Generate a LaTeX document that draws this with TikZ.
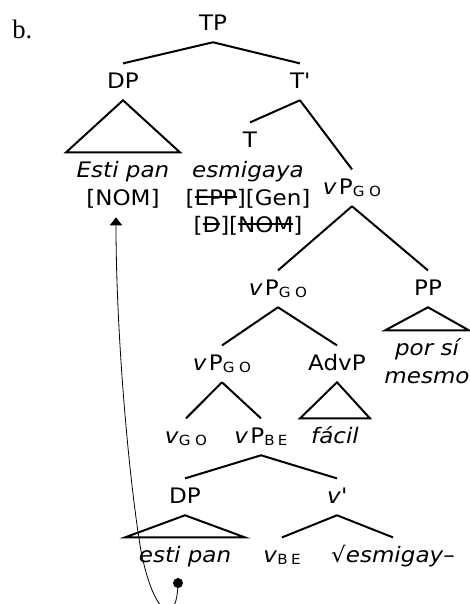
\documentclass[tikz,border=0pt]{standalone}
\usepackage{fontspec}
\setsansfont{DejaVu Sans}[FakeStretch=1.08]
\newfontfamily\itemfont{Liberation Serif}
\usetikzlibrary{arrows.meta,positioning}
\newsavebox\strkbox
\newcommand\strk[1]{\sbox\strkbox{#1}\rlap{\rule[0.34em]{\wd\strkbox}{0.07em}}\usebox\strkbox}
\newcommand\lowsc[1]{\raisebox{-1.5pt}{\fontsize{10.5}{11}\selectfont #1}}
\newcommand\sbGO{\lowsc{G\hspace{3.5pt}O}}
\newcommand\sbBE{\lowsc{B\hspace{2.5pt}E}}
\tikzset{
    lab/.style ={inner sep=0pt, anchor=base, text height=11.5pt, text depth=0pt,
                 font=\sffamily\fontsize{16}{18}\selectfont},
    wrd/.style ={lab, font=\sffamily\itshape\fontsize{16}{18}\selectfont},
    branch/.style={line width=1.5pt},
    roof/.style={line width=1.5pt, line join=miter},
    trace/.style={circle, fill, inner sep=0pt, minimum size=7.5pt}
}
\begin{document}
\begin{tikzpicture}[x=0.75pt,y=-0.75pt]
\useasboundingbox (0,0) rectangle (470,604);
 \node[inner sep=0pt, anchor=base west, font=\itemfont\fontsize{20}{22}\selectfont] (item) at (12,38) {b.};
 \node[lab] (tp) at (213,30) {TP};
    \node[lab] (dp) at (123,88) {DP};
    \node[lab] (tbar) at (300,88) {T\textquotesingle};
    \node[wrd] (dpw) at (123,177) {Esti pan};
    \node[lab] (nom) at (123,205) {[NOM]};
    \node[lab] (t) at (250,147) {T};
    \node[wrd] (tw) at (248,177) {esmigaya};
    \node[lab] (tf1) at (248,205) {[\strk{EPP}][Gen]};
    \node[lab] (tf2) at (248,232) {[\strk{D}][\strk{NOM}]};
    \node[lab] (vp1) at (352,194) {\textit{v}\hspace{1.5pt}P\sbGO};
    \node[lab] (vp2) at (278,295) {\textit{v}\hspace{1.5pt}P\sbGO};
    \node[lab] (pp) at (428,295) {PP};
    \node[wrd] (por) at (427,355) {por sí};
    \node[wrd] (mesmo) at (427,383) {mesmo};
    \node[lab] (vp3) at (222,370) {\textit{v}\hspace{1.5pt}P\sbGO};
    \node[lab] (advp) at (337,370) {AdvP};
    \node[lab] (vgo) at (186,443) {\textit{v}\sbGO};
    \node[lab] (vpbe) at (261,443) {\textit{v}\hspace{1.5pt}P\sbBE};
    \node[wrd] (facil) at (335,443) {fácil};
    \node[lab] (dp2) at (185,503) {DP};
    \node[lab] (vbar) at (337,503) {\textit{v}\textquotesingle};
    \node[wrd] (estipan) at (185,562) {esti pan};
    \node[lab] (vbe) at (282,562) {\textit{v}\sbBE};
    \node[wrd] (root) at (393,562) {√esmigay–};
    \node[trace] (gap) at (178,583) {};

    \path ([yshift=-9pt]tp.south) edge[branch] ([yshift=6.75pt]dp.north);
    \path ([yshift=-9pt]tp.south) edge[branch] ([yshift=6.75pt]tbar.north);
    \path ([yshift=-9pt]tbar.south) edge[branch] ([yshift=6.75pt]t.north);
    \path ([yshift=-9pt]tbar.south) edge[branch] ([yshift=6.75pt]vp1.north);
    \path ([yshift=-9pt]vp1.south) edge[branch] ([yshift=6.75pt]vp2.north);
    \path ([yshift=-9pt]vp1.south) edge[branch] ([yshift=6.75pt]pp.north);
    \path ([yshift=-9pt]vp2.south) edge[branch] ([yshift=6.75pt]vp3.north);
    \path ([yshift=-9pt]vp2.south) edge[branch] ([yshift=6.75pt]advp.north);
    \path ([yshift=-9pt]vp3.south) edge[branch] ([yshift=6.75pt]vgo.north);
    \path ([yshift=-9pt]vp3.south) edge[branch] ([yshift=6.75pt]vpbe.north);
    \path ([yshift=-9pt]vpbe.south) edge[branch] ([yshift=6.75pt]dp2.north);
    \path ([yshift=-9pt]vpbe.south) edge[branch] ([yshift=6.75pt]vbar.north);
    \path ([yshift=-9pt]vbar.south) edge[branch] ([yshift=6.75pt]vbe.north);
    \path ([yshift=-9pt]vbar.south) edge[branch] ([yshift=6.75pt]root.north);

    \draw[roof] ([yshift=-9pt]dp.south) -- ([xshift=-42.75pt,yshift=6.75pt]dpw.north) -- ([xshift=42.75pt,yshift=6.75pt]dpw.north) -- cycle;
    \draw[roof] ([yshift=-9pt]pp.south) -- ([xshift=-31.5pt,yshift=6.75pt]por.north) -- ([xshift=31.5pt,yshift=6.75pt]por.north) -- cycle;
    \draw[roof] ([yshift=-9pt]advp.south) -- ([xshift=-26.25pt,yshift=6.75pt]facil.north) -- ([xshift=26.25pt,yshift=6.75pt]facil.north) -- cycle;
    \draw[roof] ([yshift=-9pt]dp2.south) -- ([xshift=-45pt,yshift=6.75pt]estipan.north) -- ([xshift=45pt,yshift=6.75pt]estipan.north) -- cycle;

    \draw[line width=0.6pt, -{Triangle[length=6pt,width=9pt]}, shorten >=9pt]
      (gap.center) .. controls (177,630) and (152,615) .. (140,545)
      .. controls (128,470) and (116,330) .. ([xshift=-5.25pt]nom.south);
\end{tikzpicture}
\end{document}
